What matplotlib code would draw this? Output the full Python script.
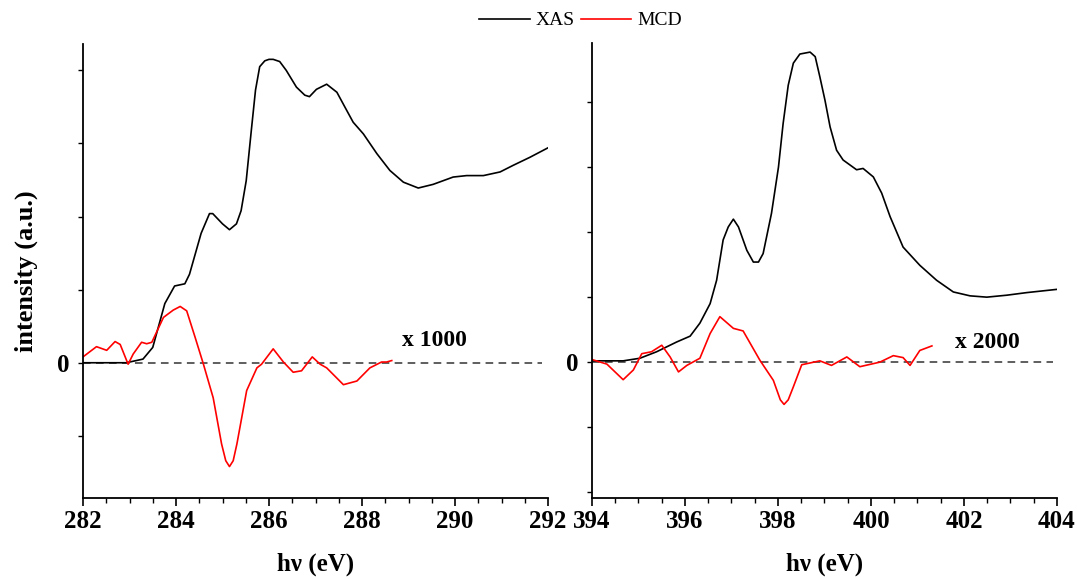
import numpy as np
import matplotlib
matplotlib.use("Agg")
from matplotlib import pyplot as plt
from matplotlib.ticker import MultipleLocator, FixedLocator

plt.rcParams['font.family'] = ['Liberation Serif', 'DejaVu Serif']

# C K-edge (left), intensity in units of y-tick spacing
c_xas_e = [282.0, 282.5, 282.93, 283.29, 283.5, 283.76, 283.97, 284.19, 284.29, 284.54,
           284.72, 284.79, 285.0, 285.15, 285.3, 285.4, 285.51, 285.62, 285.71, 285.8,
           285.91, 286.0, 286.09, 286.23, 286.37, 286.59, 286.77, 286.87, 287.02, 287.24, 287.46,
           287.63, 287.81, 288.03, 288.32, 288.6, 288.89, 289.21, 289.53, 289.96, 290.25,
           290.61, 290.97, 291.25, 291.61, 292.0]
c_xas = [0.0, 0.0, 0.0, 0.05, 0.21, 0.81, 1.05, 1.08, 1.21, 1.77,
         2.04, 2.04, 1.9, 1.82, 1.9, 2.08, 2.49, 3.18, 3.73, 4.05,
         4.13, 4.15, 4.15, 4.12, 4.0, 3.77, 3.66, 3.64, 3.74, 3.81, 3.7,
         3.5, 3.29, 3.13, 2.86, 2.63, 2.47, 2.39, 2.44, 2.54, 2.56,
         2.56, 2.61, 2.7, 2.81, 2.94]

c_mcd_e = [282.0, 282.29, 282.51, 282.69, 282.8, 282.97, 283.08, 283.26, 283.37, 283.48,
           283.73, 283.94, 284.09, 284.23, 284.41, 284.59, 284.8, 284.98, 285.07, 285.15,
           285.23, 285.31, 285.52, 285.74, 285.84, 286.09, 286.31, 286.52, 286.7, 286.93,
           287.1, 287.24, 287.6, 287.89, 288.17, 288.42, 288.53, 288.64]
c_mcd = [0.08, 0.22, 0.17, 0.29, 0.25, -0.02, 0.12, 0.28, 0.26, 0.28,
         0.62, 0.72, 0.77, 0.71, 0.35, -0.02, -0.48, -1.11, -1.34, -1.42,
         -1.34, -1.11, -0.38, -0.07, -0.02, 0.19, 0.01, -0.13, -0.11, 0.08,
         -0.02, -0.07, -0.3, -0.25, -0.07, 0.01, 0.01, 0.03]

# N K-edge (right)
n_xas_e = [394.03, 394.67, 395.03, 395.39, 395.82, 396.11, 396.32, 396.54, 396.68, 396.82,
           396.93, 397.04, 397.15, 397.33, 397.47, 397.58, 397.68, 397.86, 398.01, 398.11,
           398.22, 398.33, 398.47, 398.69, 398.8, 398.9, 399.01, 399.12, 399.26, 399.4,
           399.69, 399.83, 400.05, 400.23, 400.41, 400.69, 401.05, 401.41, 401.77, 402.13,
           402.49, 402.92, 403.35, 404.0]
n_xas = [0.02, 0.02, 0.06, 0.16, 0.31, 0.4, 0.6, 0.9, 1.26, 1.88,
         2.08, 2.2, 2.08, 1.72, 1.54, 1.54, 1.67, 2.29, 3.0, 3.67,
         4.26, 4.6, 4.74, 4.77, 4.7, 4.39, 4.03, 3.62, 3.26, 3.11,
         2.96, 2.98, 2.85, 2.6, 2.24, 1.77, 1.49, 1.26, 1.08, 1.02,
         1.0, 1.03, 1.07, 1.12]

n_mcd_e = [394.0, 394.32, 394.67, 394.89, 395.07, 395.28, 395.5, 395.68, 395.86, 396.04,
           396.32, 396.54, 396.75, 397.04, 397.25, 397.61, 397.9, 398.05, 398.13, 398.22,
           398.33, 398.51, 398.9, 399.15, 399.48, 399.76, 400.19, 400.48, 400.69, 400.84,
           401.05, 401.31]
n_mcd = [0.04, -0.03, -0.27, -0.12, 0.13, 0.16, 0.26, 0.08, -0.15, -0.05,
         0.06, 0.44, 0.7, 0.52, 0.48, 0.03, -0.28, -0.58, -0.65, -0.58,
         -0.38, -0.04, 0.02, -0.05, 0.08, -0.07, 0.0, 0.1, 0.07, -0.05,
         0.18, 0.25]

fig = plt.figure(figsize=(10.77, 5.79), dpi=100)
ax1 = fig.add_axes([83/1077, 81/579, 465/1077, 454/579])
ax2 = fig.add_axes([592/1077, 81/579, 465/1077, 455/579])

panels = [
    (ax1, c_xas_e, c_xas, c_mcd_e, c_mcd, (282, 292), (-1.85, 4.36), [-1, 0, 1, 2, 3, 4], "x 1000", 288.85, 0.3, 0.987),
    (ax2, n_xas_e, n_xas, n_mcd_e, n_mcd, (394, 404), (-2.09, 4.91), [-2, -1, 0, 1, 2, 3, 4], "x 2000", 401.8, 0.3, 0.991),
]

for ax, xe, xas, me, mcd, xl, yl, yt, txt, tx, ty, dend in panels:
    ax.axhline(0, xmin=0, xmax=dend, color='#333333', lw=1.1, ls=(0, (5, 3.5)))
    l1, = ax.plot(xe, xas, color='black', lw=1.2)
    l2, = ax.plot(me, mcd, color='red', lw=1.2)
    ax.set_xlim(*xl)
    ax.set_ylim(*yl)
    ax.spines['top'].set_visible(False)
    ax.spines['right'].set_visible(False)
    ax.spines['left'].set_linewidth(1.3)
    ax.spines['bottom'].set_linewidth(1.3)
    ax.xaxis.set_major_locator(MultipleLocator(2))
    ax.xaxis.set_minor_locator(MultipleLocator(0.5))
    ax.yaxis.set_major_locator(FixedLocator(yt))
    ax.set_yticklabels(['0' if v == 0 else '' for v in yt])
    ax.tick_params(axis='x', which='major', length=6, width=1.2, direction='out', pad=3)
    ax.tick_params(axis='x', which='minor', length=3.5, width=1.0, direction='out')
    ax.tick_params(axis='y', length=3.5, width=1.0, direction='out', pad=6)
    for lab in ax.get_xticklabels() + ax.get_yticklabels():
        lab.set_fontsize(18)
        lab.set_fontweight('bold')
    ax.set_xlabel('hν (eV)', fontsize=18, fontweight='bold', labelpad=14)
    ax.text(tx, ty, txt, fontsize=17, fontweight='bold', va='center', ha='left')

ax1.set_ylabel('intensity (a.u.)', fontsize=19, fontweight='bold', labelpad=14)

fig.legend([l1, l2], ['XAS', 'MCD'], loc='upper center', bbox_to_anchor=(0.539, 1.01),
           ncol=2, frameon=False, fontsize=14, handlelength=2.6, handletextpad=0.3,
           columnspacing=0.3)

fig.savefig('out.png', dpi=100)
